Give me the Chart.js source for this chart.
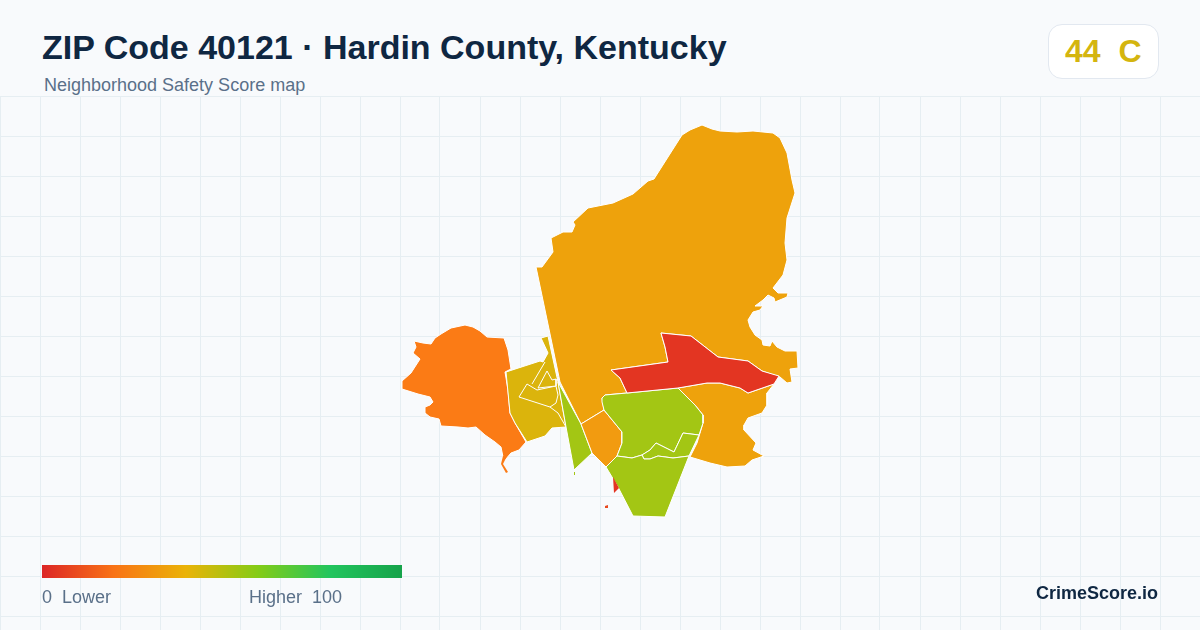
<!DOCTYPE html>
<html lang="en">

<head>
  <meta charset="UTF-8">
  <title>ZIP Code 40121</title>
  <style>
    html, body { margin: 0; padding: 0; background: #f8fafc; }
    body { position: relative; width: 1200px; height: 630px; overflow: hidden; font-family: "Liberation Sans", Arial, sans-serif; }
    #mapBox { position: absolute; left: 0; top: 96px; width: 1200px; height: 534px; }
    .txt { position: absolute; white-space: pre; line-height: 1; }
    #title { left: 42px; top: 30px; font-size: 34px; font-weight: bold; color: #0f2742; }
    #sub { left: 44px; top: 76px; font-size: 18px; color: #5a7089; }
    #badge { position: absolute; left: 1048px; top: 24px; width: 109px; height: 53px; background: #fff; border: 1px solid #e2e8f0; border-radius: 14px; }
    #grade { left: 1065px; top: 35px; font-size: 32px; font-weight: bold; color: #d4b50f; }
    #bar { position: absolute; left: 42px; top: 565px; width: 360px; height: 13px; }
    #low { left: 42px; top: 588px; font-size: 18px; color: #5a7089; }
    #high { left: 249px; top: 588px; font-size: 18px; color: #5a7089; }
    #brand { right: 42px; top: 584px; font-size: 18px; font-weight: bold; color: #0f2742; }
  </style>
</head>

<body>
  <div id="mapBox"><canvas id="zipMap" width="1200" height="534"></canvas></div>
  <div class="txt" id="title">ZIP Code 40121 · Hardin County, Kentucky</div>
  <div class="txt" id="sub">Neighborhood Safety Score map</div>
  <div id="badge"></div>
  <div class="txt" id="grade">44  C</div>
  <div id="bar"></div>
  <div class="txt" id="low">0  Lower</div>
  <div class="txt" id="high">Higher  100</div>
  <div class="txt" id="brand">CrimeScore.io</div>

  <script src="https://cdnjs.cloudflare.com/ajax/libs/Chart.js/4.4.1/chart.umd.js"></script>

  <script>
    // map units
    const north = [[536,267],[542,267],[553,252],[551,238],[563,232],[572,232],[575,225],[573,222],[588,208],[613,203],[633,194],[648,181],[654,179],[682,135],[690,130],[702,125],[712,129],[720,131],[737,132],[753,131],[773,133],[780,138],[787,153],[792,180],[795,193],[787,218],[785,243],[787,260],[783,275],[773,288],[778,293],[788,293],[787,297],[775,302],[774,298],[768,295],[763,300],[755,306],[763,306],[760,310],[753,312],[748,320],[750,327],[755,335],[762,340],[763,345],[770,346],[772,341],[777,347],[785,351],[797,351],[798,368],[790,369],[792,382],[787,383],[780,377],[762,371],[748,361],[718,357],[691,336],[661,333],[665,347],[668,362],[611,370],[620,378],[627,393],[605,395],[602,398],[604,410],[581,424],[560,382],[545,310]];
    const southEast = [[678,388],[707,383],[720,383],[740,388],[748,393],[774,384],[767,393],[767,405],[762,413],[748,418],[744,425],[744,430],[756,443],[753,450],[764,456],[752,460],[745,466],[727,467],[710,463],[690,457],[697,443],[703,423],[703,415],[695,405]];
    const redBand = [[661,333],[691,336],[718,357],[748,361],[762,371],[779,376],[774,384],[748,393],[740,388],[720,383],[707,383],[678,388],[627,393],[620,378],[611,370],[668,362],[665,347]];
    const west = [[414,341],[423,343],[431,344],[435,338],[441,334],[451,328],[465,325],[473,327],[480,331],[487,337],[504,338],[508,350],[511,369],[505,372],[508,390],[510,413],[515,423],[526,442],[519,450],[511,453],[505,460],[501,464],[503,457],[501,447],[495,442],[485,435],[476,427],[468,428],[458,427],[441,426],[439,419],[430,417],[425,413],[425,407],[430,405],[433,402],[430,397],[418,394],[402,389],[402,381],[411,373],[420,359],[413,353],[416,347]];
    const westTail = [[503,456],[507,456],[503,464],[508,472],[506,473],[501,464]];
    const yellowMain = [[506,372],[540,361],[543,362],[548,353],[541,338],[548,336],[558,382],[566,427],[552,428],[545,436],[527,442],[515,423],[510,413]];
    const yellowQuad = [[527,384],[537,390],[556,386],[558,395],[556,403],[550,407],[519,397]];
    const yellowInner = [[538,388],[547,371],[552,380],[556,379],[556,386]];
    const yellowEdge = [[545,362],[532,384]];
    const yellowSouth = [[550,407],[558,413],[566,427]];
    const greenStrip = [[558,382],[581,424],[592,453],[574,470],[566,427]];
    const greenSpeck = [[574,472],[575,472],[575,475],[574,475]];
    const southOrange = [[581,424],[604,410],[622,432],[622,443],[617,456],[606,467],[592,453]];
    const greenMain = [[602,398],[605,395],[627,393],[678,388],[695,405],[703,415],[703,423],[699,435],[683,433],[674,452],[656,443],[650,450],[642,455],[632,458],[617,456],[622,443],[622,432],[604,410],[602,402]];
    const greenWedge = [[642,455],[650,450],[656,443],[674,452],[683,433],[699,435],[689,456],[673,458],[658,456],[650,459],[644,459]];
    const greenSouth = [[606,467],[617,456],[632,458],[642,455],[644,459],[650,459],[658,456],[673,458],[689,456],[665,517],[633,516],[618,487]];
    const redSliver = [[613,477],[619,488],[614,493]];
    const redSpeck = [[605,506],[608,505],[608,508],[605,508]];

    const regions = [north, southEast, west, westTail, yellowMain, yellowQuad, yellowInner, yellowEdge, yellowSouth, greenStrip, greenSpeck, southOrange, greenMain, greenWedge, greenSouth, redBand, redSliver, redSpeck];
    const regionColors = ["#eea20c", "#eea20c", "#fb7b15", "#fb7b15", "#dbb40c", "#dbb40c", "#dbb40c", "#dbb40c", "#dbb40c", "#a3c614", "#a3c614", "#f29b10", "#a3c614", "#a3c614", "#a3c614", "#e33522", "#e33522", "#e8491f"];
    const openLines = [yellowEdge, yellowSouth];
    const noBorder = [westTail, greenSpeck, redSliver, redSpeck];

    const gridX = [0, 40, 80, 120, 160, 200, 240, 280, 320, 360, 400, 440, 480, 520, 560, 600, 640, 680, 720, 760, 800, 840, 880, 920, 960, 1000, 1040, 1080, 1120, 1160];
    const gridY = [96, 136, 176, 216, 256, 296, 336, 376, 416, 456, 496, 536, 576, 616];

    const legendStops = [0, 20, 40, 60, 80, 100];
    const legendColors = ["#dc2626", "#f97316", "#eab308", "#84cc16", "#22c55e", "#16a34a"];

    document.getElementById("bar").style.background = "linear-gradient(90deg," +
      legendColors.map((c, i) => c + " " + legendStops[i] + "%").join(",") + ")";

    const datasets = regions.map((pts, i) => {
      const isOpen = openLines.includes(pts);
      const closed = isOpen ? pts : pts.concat([pts[0]]);
      return {
        data: closed.map(p => ({ x: p[0], y: p[1] })),
        showLine: true,
        fill: isOpen ? false : "shape",
        backgroundColor: regionColors[i],
        borderColor: "#ffffff",
        borderWidth: noBorder.includes(pts) ? 0 : 1,
        pointRadius: 0,
        pointHoverRadius: 0,
        tension: 0,
        order: regions.length - i // first region goes at the bottom
      };
    });

    const hideAxis = (vals, lo, hi, rev) => ({
      type: "linear",
      min: lo,
      max: hi,
      reverse: rev,
      afterBuildTicks: s => { s.ticks = vals.map(v => ({ value: v })); },
      ticks: { display: false },
      grid: { color: "#e6eef2", lineWidth: 1, drawTicks: false },
      border: { display: false }
    });

    new Chart("zipMap", {
      type: "scatter",
      data: { datasets },
      options: {
        responsive: false,
        animation: false,
        events: [],
        layout: { padding: 0 },
        plugins: { legend: { display: false }, tooltip: { enabled: false } },
        scales: {
          x: hideAxis(gridX, 0, 1200, false),
          y: hideAxis(gridY, 96, 630, true)
        }
      }
    });
  </script>
</body>

</html>
